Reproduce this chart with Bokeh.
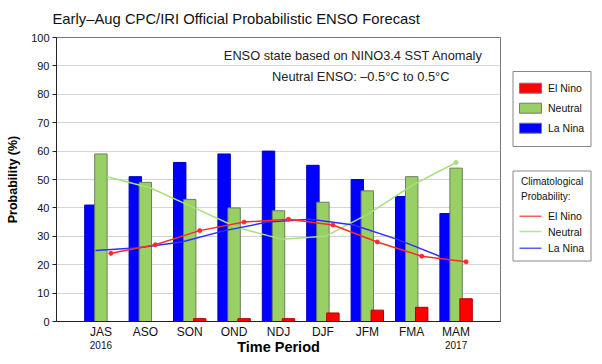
import numpy as np
from bokeh.plotting import figure
from bokeh.models import Range1d, FixedTicker, Label, Title, LinearAxis
from bokeh.layouts import row
from bokeh.embed import file_html
from bokeh.resources import INLINE

# ---- data ----
seasons = ["JAS", "ASO", "SON", "OND", "NDJ", "DJF", "JFM", "FMA", "MAM"]
year_labels = {1: "2016", 9: "2017"}
la_nina = [41, 51, 56, 59, 60, 55, 50, 44, 38]
neutral = [59, 49, 43, 40, 39, 42, 46, 51, 54]
el_nino = [0, 0, 1, 1, 1, 3, 4, 5, 8]
clim_el_nino = [24, 27, 32, 35, 36, 34, 28, 23, 21]
clim_neutral = [51, 47, 40, 33, 29, 30, 38, 48, 56]
clim_la_nina = [25, 26, 28, 32, 35, 36, 34, 29, 23]
y_ticks = list(range(0, 101, 10))

FONT = "Liberation Sans"
BLUE = "#0000FF"
GREEN = "#99D066"
RED = "#FF0000"
L_RED = "#FF2A2A"
L_GREEN = "#A6E07E"
L_BLUE = "#2E2EFF"

cat = np.arange(1, len(seasons) + 1)

p = figure(frame_width=444, frame_height=284, x_range=Range1d(0, 10), y_range=Range1d(0, 100),
           output_backend="svg", toolbar_location=None,
           min_border_left=56, min_border_right=2, min_border_top=37, min_border_bottom=35)
p.title = Title(text="Early\u2013Aug CPC/IRI Official Probabilistic ENSO Forecast",
                text_font=FONT, text_font_size="14.8px", text_font_style="normal",
                text_color="#111111", align="left", offset=-4, standoff=18,
                vertical_align="top")

bw = 0.28
p.vbar(x=cat - 0.225, top=la_nina, width=bw, fill_color=BLUE, line_color="#0000C0", line_width=1)
p.vbar(x=cat, top=neutral, width=bw, fill_color=GREEN, line_color="#6E7E60", line_width=1)
p.vbar(x=cat + 0.225, top=el_nino, width=bw, fill_color=RED, line_color="#B00000", line_width=1)

# climatological lines
x_blue = cat + np.linspace(-0.12, -0.37, len(cat))
x_green = cat + np.linspace(0.14, 0.0, len(cat))
x_red = cat + 0.225
p.line(x_green, clim_neutral, line_color=L_GREEN, line_width=1.5)
p.scatter([x_green[-1]], [clim_neutral[-1]], size=4, color=L_GREEN)
p.line(x_blue, clim_la_nina, line_color=L_BLUE, line_width=1.5)
p.line(x_red, clim_el_nino, line_color=L_RED, line_width=1.5)
p.scatter(x_red, clim_el_nino, size=4, color=L_RED)

p.add_layout(Label(x=9.6, y=93.6, text="ENSO state based on NINO3.4 SST Anomaly",
                   text_align="right", text_baseline="middle", text_font=FONT,
                   text_font_size="12.8px", text_color="#222222"))
p.add_layout(Label(x=8.85, y=86.3, text="Neutral ENSO: \u20130.5\u00b0C to 0.5\u00b0C",
                   text_align="right", text_baseline="middle", text_font=FONT,
                   text_font_size="12.8px", text_color="#222222"))

p.xgrid.visible = False
p.ygrid.grid_line_color = "#D4D4D4"
p.ygrid.ticker = FixedTicker(ticks=y_ticks)
p.outline_line_color = "#777777"

p.xaxis.ticker = FixedTicker(ticks=list(cat))
p.xaxis.major_label_overrides = {int(c): s for c, s in zip(cat, seasons)}
p.xaxis.major_tick_line_color = None
p.xaxis.major_tick_out = 0
p.xaxis.minor_tick_line_color = None
p.xaxis.axis_line_color = "#222222"
p.xaxis.major_label_text_font = FONT
p.xaxis.major_label_text_font_size = "12px"
p.xaxis.major_label_text_color = "#111111"
p.xaxis.major_label_standoff = 3

# second bottom axis: years + axis title
ax2 = LinearAxis(ticker=FixedTicker(ticks=list(year_labels.keys())),
                 major_label_overrides=year_labels)
ax2.axis_line_color = None
ax2.major_tick_line_color = None
ax2.minor_tick_line_color = None
ax2.major_tick_out = 0
ax2.major_label_standoff = -1
ax2.major_label_text_font = FONT
ax2.major_label_text_font_size = "10px"
ax2.major_label_text_color = "#111111"
ax2.axis_label = "Time Period"
ax2.axis_label_text_font = FONT
ax2.axis_label_text_font_size = "14.5px"
ax2.axis_label_text_font_style = "bold"
ax2.axis_label_text_color = "#000000"
ax2.axis_label_standoff = -13
p.add_layout(ax2, "below")

p.yaxis.ticker = FixedTicker(ticks=y_ticks)
p.yaxis.minor_tick_line_color = None
p.yaxis.major_tick_out = 4
p.yaxis.major_tick_in = 0
p.yaxis.axis_line_color = "#222222"
p.yaxis.major_tick_line_color = "#222222"
p.yaxis.major_label_text_font = FONT
p.yaxis.major_label_text_font_size = "11px"
p.yaxis.major_label_text_color = "#111111"
p.yaxis.major_label_standoff = 3
p.yaxis.axis_label = "Probability (%)"
p.yaxis.axis_label_text_font = FONT
p.yaxis.axis_label_text_font_size = "12.5px"
p.yaxis.axis_label_text_font_style = "bold"
p.yaxis.axis_label_text_color = "#000000"
p.yaxis.axis_label_standoff = 8

# ---- legend panel (coordinates = page pixels) ----
q = figure(frame_width=98, frame_height=284, x_range=Range1d(502, 600), y_range=Range1d(321, 37),
           output_backend="svg", toolbar_location=None, min_border_left=0, min_border_right=0,
           min_border_top=37, min_border_bottom=35,
           x_axis_location=None, y_axis_location=None)
q.grid.visible = False
q.outline_line_color = None

leg_names = ["El Nino", "Neutral", "La Nina"]
swatch_colors = [RED, GREEN, BLUE]
line_colors = ["#FF5A5A", "#B4E890", "#5A5AFF"]

q.quad(left=[512.5], right=[590.5], top=[71], bottom=[146], fill_color="white",
       line_color="#888888", line_width=1)
sw_y = [87.7, 107.7, 127.7]
q.quad(left=[519] * 3, right=[541] * 3, top=[y - 5 for y in sw_y], bottom=[y + 5 for y in sw_y],
       fill_color=swatch_colors, line_color="#777777")
q.text(x=[547.5] * 3, y=sw_y, text=leg_names, text_font={"value": FONT}, text_font_size="10.5px",
       text_baseline="middle", text_color="#111111")

q.quad(left=[512.5], right=[590.5], top=[170.5], bottom=[260.5], fill_color="white",
       line_color="#888888", line_width=1)
q.text(x=[520.5, 520.5], y=[181, 196], text=["Climatological", "Probability:"],
       text_font={"value": FONT}, text_font_size="10px", text_baseline="middle", text_color="#111111")
ln_y = [215.7, 231, 247.7]
for yy, c in zip(ln_y, line_colors):
    q.line([519, 541], [yy, yy], line_color=c, line_width=1.5)
q.text(x=[547.5] * 3, y=ln_y, text=leg_names, text_font={"value": FONT}, text_font_size="10.5px",
       text_baseline="middle", text_color="#111111")

layout = row(p, q)
open("out.html", "w").write(file_html(layout, INLINE))
